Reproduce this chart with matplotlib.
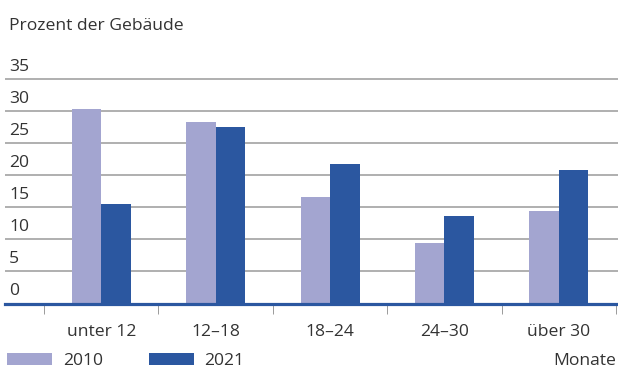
import numpy as np
import matplotlib
matplotlib.use("Agg")
import matplotlib.pyplot as plt

plt.rcParams['font.family'] = ['Open Sans', 'DejaVu Sans']

# data
categories = ['unter 12', '12\u201318', '18\u201324', '24\u201330', '\u00fcber 30']
values_2010 = [30.4, 28.4, 16.7, 9.4, 14.4]
values_2021 = [15.5, 27.6, 21.8, 13.6, 20.9]
yticks = [0, 5, 10, 15, 20, 25, 30, 35]

c2010 = '#a3a5d0'
c2021 = '#2b57a0'
txt = '#333333'
fs = 12.6

fig = plt.figure(figsize=(6.18, 3.69), dpi=100)
ax = fig.add_axes([5 / 618, 0.1775, 613 / 618, 0.6163])

x = np.arange(len(categories))
w = 0.258
ax.bar(x - w / 2, values_2010, width=w, color=c2010, label='2010', zorder=2)
ax.bar(x + w / 2, values_2021, width=w, color=c2021, label='2021', zorder=2)

ax.set_xlim(-0.841, 4.517)
ax.set_ylim(0, 35.5)

# gridlines
for v in yticks[1:]:
    ax.axhline(v, color='#9a9a9a', lw=1.1, zorder=1)

for sp in ['top', 'right', 'left']:
    ax.spines[sp].set_visible(False)
ax.spines['bottom'].set_color(c2021)
ax.spines['bottom'].set_linewidth(2.3)
ax.spines['bottom'].set_zorder(3)

ax.set_yticks([])
ax.set_xticks(np.arange(-0.5, len(categories), 1.0))
ax.set_xticklabels([])
ax.tick_params(axis='x', length=7, width=0.7, color='#9a9a9a', direction='out')

# y labels above the gridlines
for v in yticks:
    ax.annotate(str(v), xy=(0, v), xycoords=('axes fraction', 'data'),
                xytext=(2.9, 6), textcoords='offset points',
                ha='left', va='baseline', fontsize=fs, color=txt)

# category labels
for i, c in enumerate(categories):
    ax.annotate(c, xy=(i, 0), xycoords=('data', 'axes fraction'),
                xytext=(0, -23.4), textcoords='offset points',
                ha='center', va='baseline', fontsize=fs, color=txt)

fig.text(9 / 618, 1 - 30 / 369, 'Prozent der Geb\u00e4ude', ha='left', va='baseline',
         fontsize=fs, color=txt)
fig.text(616 / 618, 4 / 369, 'Monate', ha='right', va='baseline',
         fontsize=fs, color=txt)

fig.legend(loc='lower left', bbox_to_anchor=(7 / 618, 0), ncol=2,
           frameon=False, fontsize=fs, handlelength=2.6, handleheight=0.7,
           handletextpad=0.6, columnspacing=2.6, borderpad=0, borderaxespad=0,
           labelcolor=txt)

fig.savefig('out.png', dpi=100)
